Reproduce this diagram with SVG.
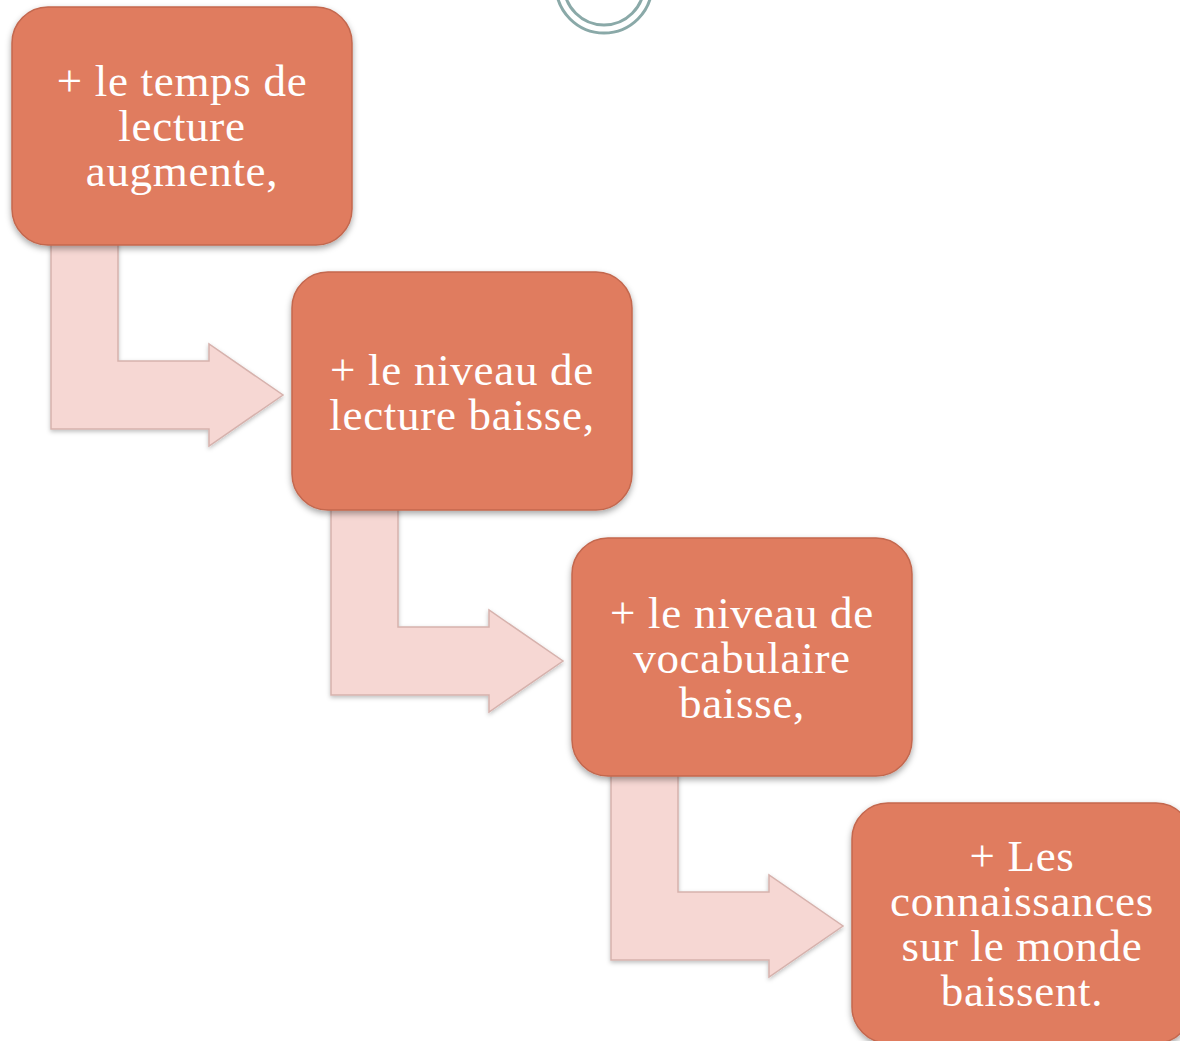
<svg xmlns="http://www.w3.org/2000/svg" width="1180" height="1041" viewBox="0 0 1180 1041">
<defs>
<style>
.box{fill:#E07C5F;stroke:#C3674E;stroke-width:1.5;filter:url(#sh)}
.arr{fill:#F6D7D3;stroke:#D6B2AD;stroke-width:1.5;filter:url(#sh2)}
.t{font-family:"Liberation Serif","Times New Roman",serif;font-size:45px;fill:#FFFFFF;text-anchor:middle;letter-spacing:0.7px}
.ring{fill:none;stroke:#8AA9A8;stroke-width:3}
</style>
<filter id="sh" x="-10%" y="-10%" width="120%" height="125%">
<feDropShadow dx="0" dy="3" stdDeviation="3" flood-color="#000" flood-opacity="0.35"/>
</filter>
<filter id="sh2" x="-10%" y="-10%" width="120%" height="125%">
<feDropShadow dx="0" dy="2" stdDeviation="2" flood-color="#000" flood-opacity="0.25"/>
</filter>
</defs>
<rect width="1180" height="1041" fill="#FFFFFF"/>
<g id="ornament">
<circle class="ring" cx="604" cy="-15" r="48"/>
<circle class="ring" cx="604" cy="-15" r="40"/>
</g>
<g id="connectors">
<path class="arr" d="M51,240 L118,240 L118,361 L209,361 L209,344 L283,395 L209,446 L209,429 L51,429 Z"/>
<path class="arr" d="M331,505 L398,505 L398,627 L489,627 L489,610 L563,661 L489,712 L489,695 L331,695 Z"/>
<path class="arr" d="M611,771 L678,771 L678,892 L769,892 L769,875 L843,926 L769,977 L769,960 L611,960 Z"/>
</g>
<g id="node1">
<rect class="box" x="12" y="7" width="340" height="238" rx="36"/>
<text class="t" x="182" y="96">+ le temps de</text>
<text class="t" x="182" y="141">lecture</text>
<text class="t" x="182" y="186">augmente,</text>
</g>
<g id="node2">
<rect class="box" x="292" y="272" width="340" height="238" rx="36"/>
<text class="t" x="462" y="385">+ le niveau de</text>
<text class="t" x="462" y="430">lecture baisse,</text>
</g>
<g id="node3">
<rect class="box" x="572" y="538" width="340" height="238" rx="36"/>
<text class="t" x="742" y="628">+ le niveau de</text>
<text class="t" x="742" y="673">vocabulaire</text>
<text class="t" x="742" y="718">baisse,</text>
</g>
<g id="node4">
<rect class="box" x="852" y="803" width="340" height="240" rx="36"/>
<text class="t" x="1022" y="871">+ Les</text>
<text class="t" x="1022" y="916">connaissances</text>
<text class="t" x="1022" y="961">sur le monde</text>
<text class="t" x="1022" y="1006">baissent.</text>
</g>
</svg>
